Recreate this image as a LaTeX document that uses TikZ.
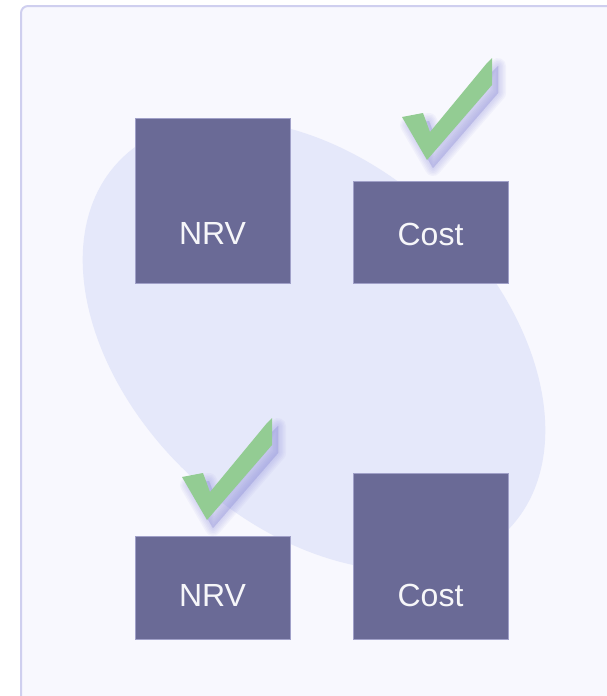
\documentclass[tikz,border=0pt]{standalone}
\usepackage{fontspec}
\setmainfont{Liberation Sans}
\usepackage{tikz}
\usetikzlibrary{positioning}
\definecolor{panelfill}{HTML}{F8F8FE}
\definecolor{paneldraw}{HTML}{CFCFEF}
\definecolor{blobfill}{HTML}{E5E8FA}
\definecolor{boxfill}{HTML}{6A6A96}
\definecolor{boxdraw}{HTML}{A0A0C8}
\definecolor{tickgreen}{HTML}{93CC93}
\definecolor{tickshade}{HTML}{9090DC}
\tikzstyle{box} = [rectangle, draw=boxdraw, fill=boxfill, line width=1pt,
minimum width=155pt, inner sep=0pt]
\tikzstyle{caption} = [text=white!94!boxfill, inner sep=0pt,
font=\fontsize{32}{38}\selectfont]
\tikzstyle{tick} = [fill=tickgreen]
\newcommand{\tickpath}{(0,0) -- (21,-4) -- (28,15) -- (85,-54) -- (90,-59) -- (90,-32) -- (25,43) -- cycle}
\newcommand{\greentick}[2]{%
\begin{scope}[shift={(#1,#2)}]
\foreach \w in {16,13,10,7,4,1}
\filldraw[tickshade, opacity=0.07, line width=\w pt, line join=round, shift={(6,8)}] \tickpath;
\path[tick] \tickpath;
\end{scope}}

\begin{document}
\begin{tikzpicture}[x=1pt, y=-1pt]
\useasboundingbox (0,0) rectangle (606,696);
% Background
\draw[draw=paneldraw, fill=panelfill, line width=2pt, rounded corners=7pt] (21,6) rectangle (640,730);
\fill[blobfill, rotate around={-43:(314,345)}] (314,345) ellipse [x radius=268, y radius=180];

% Place nodes
\node [box, minimum height=165pt] (b1) at (212.5,200.5) {};
\node [box, minimum height=102pt] (b2) at (430.5,232) {};
\node [box, minimum height=103pt] (b3) at (212.5,587.5) {};
\node [box, minimum height=166pt] (b4) at (430.5,556) {};

\node [caption] (t1) at ([yshift=50pt]b1.south) {NRV};
\node [caption] (t2) at ([yshift=49pt]b2.south) {Cost};
\node [caption] (t3) at ([yshift=44pt]b3.south) {NRV};
\node [caption] (t4) at ([yshift=44pt]b4.south) {Cost};

% Ticks
\greentick{402}{117}
\greentick{182}{477}
\end{tikzpicture}
\end{document}
